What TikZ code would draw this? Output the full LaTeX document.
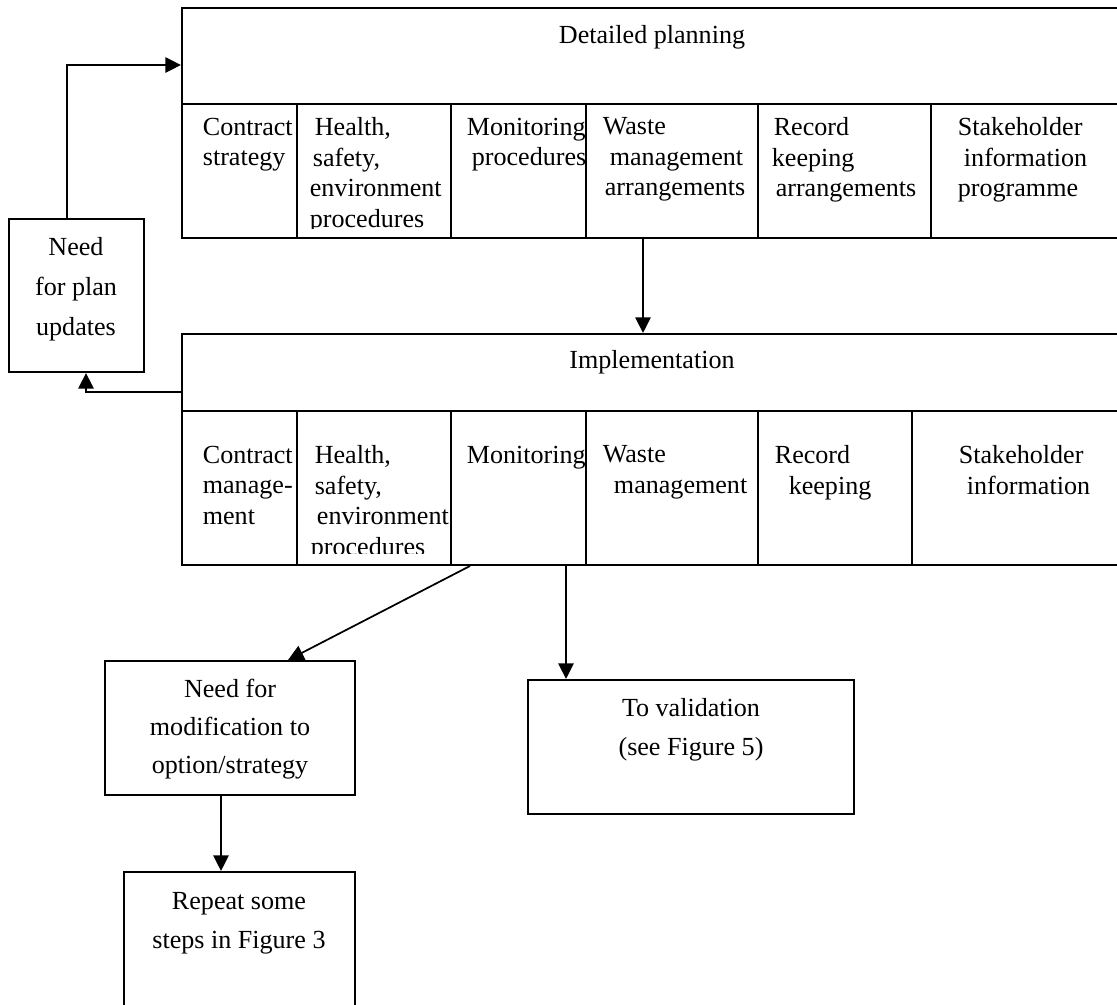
\documentclass[tikz,border=0pt]{standalone}
\usepackage{fontspec}
\setmainfont{Liberation Serif}
\usetikzlibrary{arrows.meta,fit,positioning}

\begin{document}
\begin{tikzpicture}[x=0.46pt, y=-0.46pt, line width=0.8pt,
  font=\fontsize{12}{14}\selectfont,
  box/.style={draw, line width=0.9pt, inner sep=0pt},
  divider/.style={line width=0.6pt},
  celltext/.style={anchor=north west, align=left, inner sep=0pt},
  boxtext/.style={anchor=north, align=center, inner sep=0pt,
    font=\fontsize{12}{17.5}\selectfont},
  arr/.style={-{Triangle[length=7.2pt,width=7pt]}}]
  \path[use as bounding box, clip] (0,0) rectangle (1117,1005);

  % detailed planning
  \node[box, fit={(182,8) (1122,238)}] (plan) {};
  \node[inner sep=0pt] (planhd) at (652,37) {Detailed planning};
  \draw[divider] (182,104) -- (1122,104);
  \foreach \x in {297,451,586,758,931}
    \draw[divider] (\x,104) -- (\x,238);
  \node[celltext] (p1) at (202,117) {Contract\\strategy};
  \begin{scope}
    \clip (297,104) rectangle (451,228);
    \node[celltext] (p2) at (309,117) {\hspace*{2.3pt}Health,\\\hspace*{1.4pt}safety,\\environment\\procedures};
  \end{scope}
  \node[celltext] (p3) at (466,117) {Monitoring\\\hspace*{2.3pt}procedures};
  \node[celltext] (p4) at (602,117) {Waste\\\hspace*{3.2pt}management\\\hspace*{0.9pt}arrangements};
  \node[celltext] (p5) at (771,117) {\hspace*{0.9pt}Record\\keeping\\\hspace*{1.8pt}arrangements};
  \node[celltext] (p6) at (957,117) {Stakeholder\\\hspace*{2.8pt}information\\programme};

  % implementation
  \node[box, fit={(182,334) (1122,565)}] (impl) {};
  \node[inner sep=0pt] (implhd) at (652,362) {Implementation};
  \draw[divider] (182,411) -- (1122,411);
  \foreach \x in {297,451,586,758,912}
    \draw[divider] (\x,411) -- (\x,565);
  \node[celltext] (i1) at (202,445) {Contract\\manage-\\ment};
  \begin{scope}
    \clip (297,411) rectangle (451,553);
    \node[celltext] (i2) at (310,445) {\hspace*{1.8pt}Health,\\\hspace*{1.8pt}safety,\\\hspace*{2.8pt}environment\\procedures};
  \end{scope}
  \node[celltext] (i3) at (466,445) {Monitoring};
  \node[celltext] (i4) at (602,445) {Waste\\\hspace*{5.1pt}management};
  \node[celltext] (i5) at (774,445) {Record\\\hspace*{6.4pt}keeping};
  \node[celltext] (i6) at (958,445) {Stakeholder\\\hspace*{3.7pt}information};

  % side and lower boxes
  \node[box, fit={(8.6,219) (144,372)}] (upd) {};
  \node[boxtext, font=\fontsize{12}{18.3}\selectfont] (updtxt) at (76,237) {Need\\for plan\\updates};
  \node[box, fit={(105,661) (355,795)}] (mod) {};
  \node[boxtext] (modtxt) at (230,678) {Need for\\modification to\\option/strategy};
  \node[box, fit={(124,872) (355,1030)}] (rep) {};
  \node[boxtext] (reptxt) at (239,892) {Repeat some\\steps in Figure 3};
  \node[box, fit={(528,680) (854,814)}] (val) {};
  \node[boxtext] (valtxt) at (691,698) {To validation\\(see Figure 5)};

  % connectors
  \coordinate (up) at (67,65);
  \draw[arr] (up |- upd.north) -- (up) -- (up -| plan.west);
  \coordinate (down) at (643,0);
  \draw[arr] (down |- plan.south) -- (down |- impl.north);
  \coordinate (back) at (86,392);
  \draw[arr] (back -| impl.west) -- (back) -- (back |- upd.south);
  \coordinate (fromimpl) at (470,0);
  \coordinate (tomod) at (288,0);
  \draw[arr] (fromimpl |- impl.south) -- (tomod |- mod.north);
  \coordinate (torep) at (221,0);
  \draw[arr] (torep |- mod.south) -- (torep |- rep.north);
  \coordinate (toval) at (566,0);
  \draw[arr] (toval |- impl.south) -- (toval |- val.north);
\end{tikzpicture}
\end{document}
